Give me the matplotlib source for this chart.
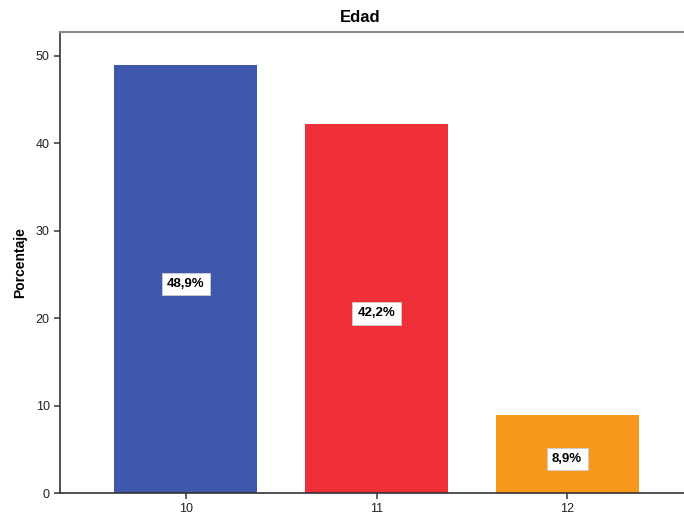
import matplotlib
matplotlib.use("Agg")
from matplotlib import pyplot as plt

# data
edades = ["10", "11", "12"]
porcentajes = [48.9, 42.2, 8.9]
etiquetas = ["48,9%", "42,2%", "8,9%"]
colores = ["#3E58AC", "#EF3038", "#F7981D"]

plt.rcParams['font.family'] = ['Liberation Sans', 'DejaVu Sans']

fig = plt.figure(figsize=(6.84, 5.19), dpi=100)
ax = fig.add_axes([60 / 684, 26 / 519, 633 / 684, 461 / 519])

x = list(range(len(edades)))
bars = ax.bar(x, porcentajes, width=0.75, color=colores, zorder=2)

# value labels in the middle of each bar (a little below centre, like SPSS)
for xi, val, txt in zip(x, porcentajes, etiquetas):
    ax.annotate(txt, (xi, val / 2), xytext=(0, -3.5), textcoords='offset points',
                ha='center', va='center', fontsize=9.5,
                fontweight='bold', color='black',
                bbox=dict(boxstyle='square,pad=0.4', facecolor='white',
                          edgecolor='#cccccc', linewidth=0.6))

ax.set_xlim(-0.66, 2.66)
ax.set_ylim(0, 52.7)
ax.set_xticks(x)
ax.set_xticklabels(edades)
ax.set_yticks([0, 10, 20, 30, 40, 50])

ax.tick_params(axis='both', labelsize=9, labelcolor='#222222', color='#444444',
               length=4, width=1.2)
for side in ['left', 'bottom']:
    ax.spines[side].set_color('#333333')
    ax.spines[side].set_linewidth(1.2)
ax.spines['top'].set_color('#888888')
ax.spines['top'].set_linewidth(1.5)
ax.spines['right'].set_visible(False)

ax.set_ylabel('Porcentaje', fontsize=10, fontweight='bold', labelpad=6)
fig.text(360 / 684, 1 - 18 / 519, 'Edad', ha='center', va='center',
         fontsize=12, fontweight='bold')

fig.savefig('out.png', dpi=100)
